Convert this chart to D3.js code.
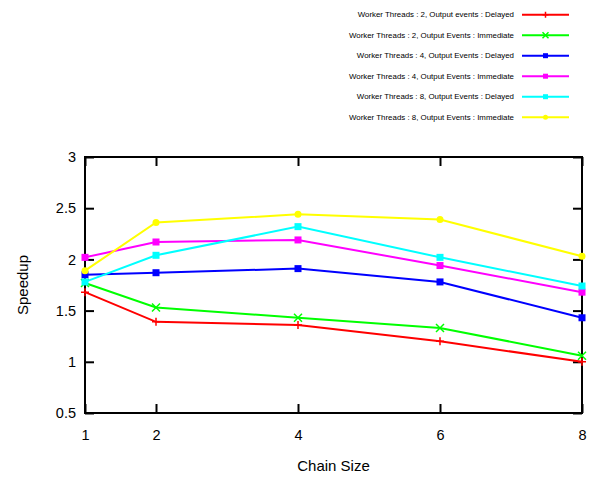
<!DOCTYPE html>
<html>
<head>
<meta charset="utf-8">
<script src="https://cdn.jsdelivr.net/npm/d3@7"></script>
<style>
  body { margin: 0; background: #fff; }
  text { font-family: "Liberation Sans", Arial, sans-serif; }
</style>
</head>
<body>
<script>
// chart data
const chainSizes = [1, 2, 4, 6, 8]
const xTicks = [1, 2, 4, 6, 8]
const yTicks = [0.5, 1, 1.5, 2, 2.5, 3]

const seriesNames = [
  'Worker Threads : 2, Output events : Delayed',
  'Worker Threads : 2, Output Events : Immediate',
  'Worker Threads : 4, Output Events : Delayed',
  'Worker Threads : 4, Output Events : Immediate',
  'Worker Threads : 8, Output Events : Delayed',
  'Worker Threads : 8, Output Events : Immediate'
]
const seriesColors = ['#ff0000', '#00ff00', '#0000ff', '#ff00ff', '#00ffff', '#ffff00']
const seriesMarkers = ['plus', 'cross', 'square', 'square', 'square', 'circle']

const w2Delayed = [1.68, 1.39, 1.36, 1.20, 1.00]
const w2Immediate = [1.77, 1.53, 1.43, 1.33, 1.06]
const w4Delayed = [1.85, 1.87, 1.91, 1.78, 1.43]
const w4Immediate = [2.02, 2.17, 2.19, 1.94, 1.68]
const w8Delayed = [1.78, 2.04, 2.32, 2.02, 1.74]
const w8Immediate = [1.89, 2.36, 2.44, 2.39, 2.03]
const seriesValues = [w2Delayed, w2Immediate, w4Delayed, w4Immediate, w8Delayed, w8Immediate]

// append svg to body
let svg = d3.select('body').append('svg')
    .attr('width', 595)
    .attr('height', 478)

let plotLeft = 85, plotRight = 582, plotTop = 157, plotBottom = 413

let xScale = d3.scaleLinear().domain([1, 8]).range([plotLeft, plotRight])
let yScale = d3.scaleLinear().domain([0.5, 3]).range([plotBottom, plotTop])

// axes with inward ticks, mirrored on top and right
svg.append('g')
    .attr('transform', `translate(0,${plotBottom})`)
    .call(d3.axisBottom(xScale).tickValues(xTicks).tickSize(-9).tickPadding(17).tickFormat(d3.format('d')))
svg.append('g')
    .attr('transform', `translate(0,${plotTop})`)
    .call(d3.axisTop(xScale).tickValues(xTicks).tickSize(-9).tickFormat(''))
svg.append('g')
    .attr('transform', `translate(${plotLeft},0)`)
    .call(d3.axisLeft(yScale).tickValues(yTicks).tickSize(-9).tickPadding(9).tickFormat(d => d))
svg.append('g')
    .attr('transform', `translate(${plotRight},0)`)
    .call(d3.axisRight(yScale).tickValues(yTicks).tickSize(-9).tickFormat(''))

svg.selectAll('.domain').remove()
svg.selectAll('.tick line').attr('stroke', '#000').attr('stroke-width', 2)
svg.selectAll('.tick text').attr('font-size', 14.5).attr('fill', '#000')

svg.append('rect')
    .attr('x', plotLeft).attr('y', plotTop)
    .attr('width', plotRight - plotLeft).attr('height', plotBottom - plotTop)
    .attr('fill', 'none').attr('stroke', '#000').attr('stroke-width', 2)

// axis labels
svg.append('text')
    .attr('x', (plotLeft + plotRight) / 2).attr('y', 471)
    .attr('text-anchor', 'middle').attr('font-size', 15)
    .text('Chain Size')
svg.append('text')
    .attr('transform', `translate(28,${(plotTop + plotBottom) / 2}) rotate(-90)`)
    .attr('text-anchor', 'middle').attr('font-size', 15)
    .text('Speedup')

function drawMarker(g, type, x, y, color, s) {
  if (type === 'plus') {
    g.append('path').attr('d', `M${x - s},${y}H${x + s}M${x},${y - s}V${y + s}`)
        .attr('stroke', color).attr('stroke-width', 1.5)
  } else if (type === 'cross') {
    g.append('path').attr('d', `M${x - s},${y - s}L${x + s},${y + s}M${x - s},${y + s}L${x + s},${y - s}`)
        .attr('stroke', color).attr('stroke-width', 1.5)
  } else if (type === 'square') {
    g.append('rect').attr('x', x - s + 0.5).attr('y', y - s + 0.5)
        .attr('width', 2 * s - 1).attr('height', 2 * s - 1).attr('fill', color)
  } else {
    g.append('circle').attr('cx', x).attr('cy', y).attr('r', s - 0.5).attr('fill', color)
  }
}

let line = d3.line()
    .x((d, i) => xScale(chainSizes[i]))
    .y(d => yScale(d))

seriesValues.forEach(function(vals, k) {
  let g = svg.append('g')
  g.append('path')
      .attr('d', line(vals))
      .attr('fill', 'none')
      .attr('stroke', seriesColors[k])
      .attr('stroke-width', 2)
  vals.forEach(function(v, i) {
    drawMarker(g, seriesMarkers[k], xScale(chainSizes[i]), yScale(v), seriesColors[k], 4)
  })
})

// legend
let legend = svg.append('g')
seriesNames.forEach(function(name, k) {
  let y = 14.7 + k * 20.5
  legend.append('text')
      .attr('x', 514).attr('y', y).attr('dy', '0.35em')
      .attr('text-anchor', 'end').attr('font-size', 7.9)
      .text(name)
  legend.append('line')
      .attr('x1', 522).attr('x2', 569).attr('y1', y).attr('y2', y)
      .attr('stroke', seriesColors[k]).attr('stroke-width', 2)
  drawMarker(legend, seriesMarkers[k], 545.5, y, seriesColors[k], 3)
})
</script>
</body>
</html>
